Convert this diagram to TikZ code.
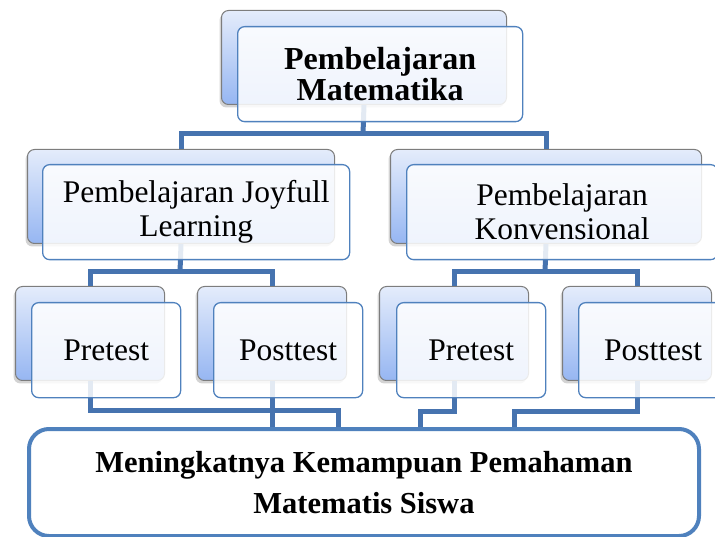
\documentclass[tikz,border=0pt]{standalone}
\usepackage{fontspec}
\setmainfont{Liberation Serif}
\usepackage{tikz}
\usetikzlibrary{positioning,calc,shadows}

\begin{document}
\begin{tikzpicture}[x=1pt,y=1pt,
  backBox/.style={draw=borderGray,line width=1pt,rounded corners=7pt,top color=backTop,bottom color=backBottom,anchor=north west,inner sep=0pt,minimum height=94pt,drop shadow={shadow xshift=-2pt,shadow yshift=-3pt,opacity=0.35}},
  frontBox/.style={draw=frontBlue,line width=1.3pt,rounded corners=7pt,fill=white,fill opacity=0.85,text opacity=1,anchor=north west,inner sep=0pt,minimum height=95pt,align=center,font=\fontsize{31.5}{34}\selectfont},
  topText/.style={font=\fontsize{32}{31}\selectfont\bfseries},
  link/.style={draw=linkBlue,line width=5pt}]
\definecolor{borderGray}{RGB}{125,125,125}
\definecolor{backTop}{RGB}{228,236,251}
\definecolor{backBottom}{RGB}{150,182,242}
\definecolor{frontBlue}{RGB}{79,129,189}
\definecolor{linkBlue}{RGB}{70,115,175}

\clip (0,0) rectangle (715,536);

\node[backBox,minimum width=285pt] (topBack) at (221,526) {};

\node[backBox,minimum width=307pt] (midLBack) at (27,387) {};

\node[backBox,minimum width=311pt] (midRBack) at (390,387) {};

\node[backBox,minimum width=149pt] (preLBack) at (15,250) {};

\node[backBox,minimum width=149pt] (postLBack) at (197,250) {};

\node[backBox,minimum width=149pt] (preRBack) at (379,250) {};

\node[backBox,minimum width=149pt] (postRBack) at (562,250) {};

\coordinate (busTop) at (363,402);
\coordinate (busLeft) at (180,264);
\coordinate (busRight) at (545,264);
\coordinate (bendA) at (338,126);
\coordinate (bendB) at (420,125);
\coordinate (bendC) at (514,125);

\node[draw=frontBlue,line width=4pt,rounded corners=20pt,fill=white,anchor=north west,inner sep=0pt,minimum width=670pt,minimum height=107pt,align=center,font=\fontsize{30.5}{41}\selectfont\bfseries] (hasil) at (27,109) {Meningkatnya Kemampuan Pemahaman\\Matematis Siswa};

\draw[link] (topBack.south) -- (busTop);
\draw[link] (midLBack.north) |- (busTop) -| (midRBack.north);

\draw[link] (midLBack.south) -- (busLeft);
\draw[link] (preLBack.north) |- (busLeft) -| (postLBack.north);

\draw[link] (midRBack.south) -- (busRight);
\draw[link] (preRBack.north) |- (busRight) -| (postRBack.north);

\draw[link] (preLBack.south) |- (bendA) -- (bendA |- hasil.north);
\draw[link] (postLBack.south) -- (postLBack.south |- hasil.north);
\draw[link] (preRBack.south) |- (bendB) -- (bendB |- hasil.north);
\draw[link] (postRBack.south) |- (bendC) -- (bendC |- hasil.north);

\node[frontBox,topText,minimum width=285pt] (topFront) at (237,510) {Pembelajaran\\Matematika};

\node[frontBox,minimum width=307pt] (midLFront) at (42,372) {Pembelajaran Joyfull\\Learning};

\node[frontBox,minimum width=311pt] (midRFront) at (406,372) {Pembelajaran\\Konvensional};

\node[frontBox,minimum width=149pt] (preLFront) at (31,234) {Pretest};

\node[frontBox,minimum width=149pt] (postLFront) at (213,234) {Posttest};

\node[frontBox,minimum width=149pt] (preRFront) at (396,234) {Pretest};

\node[frontBox,minimum width=149pt] (postRFront) at (578,234) {Posttest};
\end{tikzpicture}
\end{document}
